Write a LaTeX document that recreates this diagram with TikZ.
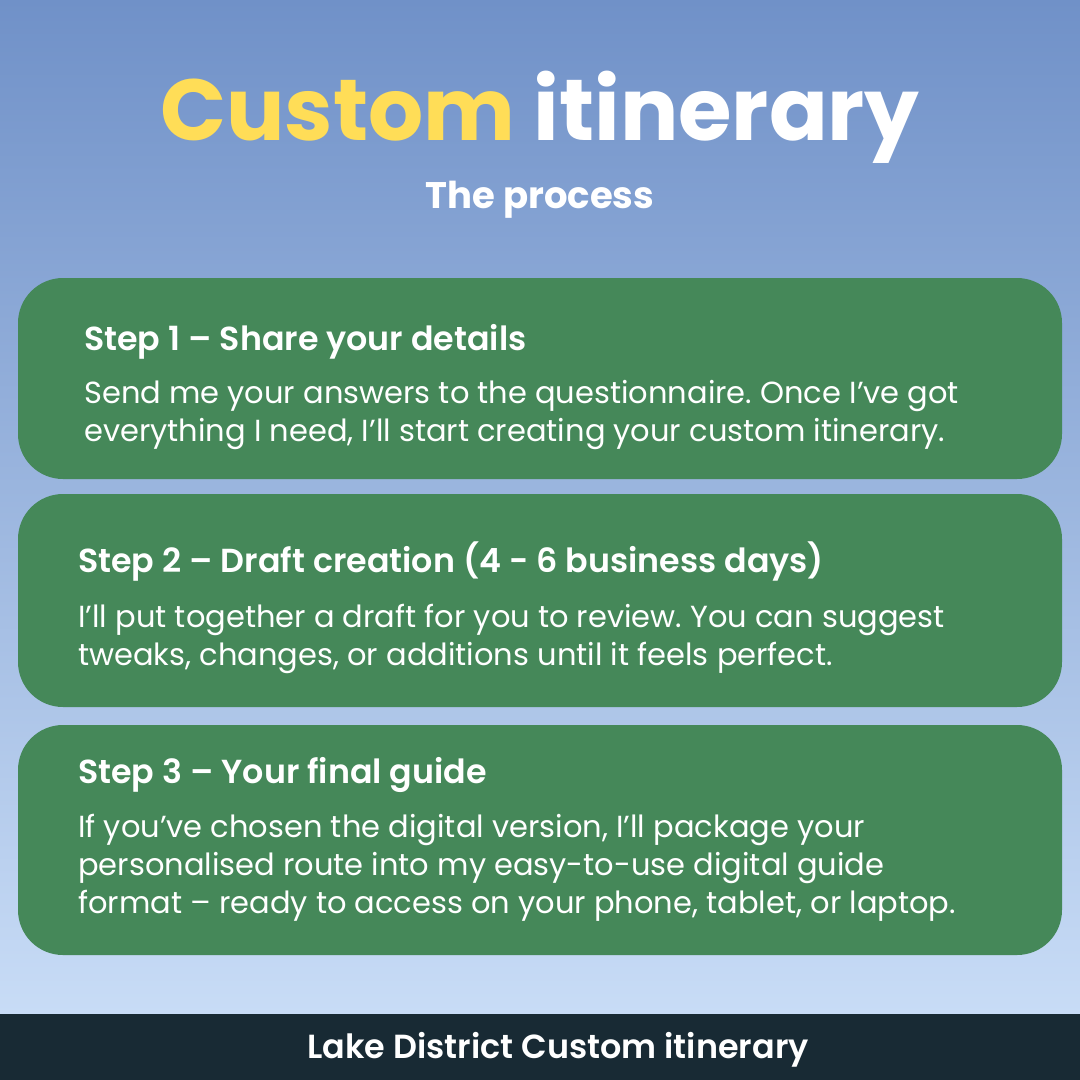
\documentclass[tikz,border=0pt]{standalone}
\usepackage{fontspec}
\setmainfont{Poppins}
\newfontfamily\semib{Poppins SemiBold}
\usetikzlibrary{positioning}
\frenchspacing
\definecolor{skytop}{RGB}{112,145,200}
\definecolor{skybottom}{RGB}{200,220,246}
\definecolor{stepgreen}{RGB}{69,136,89}
\definecolor{titleyellow}{RGB}{255,221,87}
\definecolor{footerdark}{RGB}{24,42,52}
\tikzset{
  stepbox/.style={fill=stepgreen, rounded corners=45pt},
  steptitle/.style={anchor=base west, inner sep=0pt, text=white, font=\semib\fontsize{33.3}{38}\selectfont},
  % base of a multi-line node is the baseline of its last line
  stepbody/.style={anchor=base west, inner sep=0pt, text=white, align=left, font=\fontsize{30.5}{38}\selectfont},
}
\begin{document}
\begin{tikzpicture}[x=1pt, y=-1pt]
        \useasboundingbox (0,0) rectangle (1080,1080);
        \shade[top color=skytop, bottom color=skybottom] (0,0) rectangle (1080,1014);
        \fill[footerdark] (0,1014) rectangle (1080,1080);

        \node[anchor=base, inner sep=0pt, text=white, font=\bfseries\fontsize{86.7}{100}\selectfont] (title) at (540,140) {\textcolor{titleyellow}{Custom} itinerary};
        \node[anchor=base, inner sep=0pt, text=white, font=\bfseries\fontsize{37}{40}\selectfont] (subtitle) at (540,208) {The process};

        % step 1
        \fill[stepbox] (18,278) rectangle (1062,479);
        \node[steptitle] (s1title) at (84,350) {Step 1 – Share your details};
        \node[stepbody] (s1body) at (84,441) {Send me your answers to the questionnaire. Once I’ve got\\everything I need, I’ll start creating your custom itinerary.};

        % step 2
        \fill[stepbox] (18,494) rectangle (1062,707);
        \node[steptitle] (s2title) at (78,572) {Step 2 – Draft creation (4 - 6 business days)};
        \node[stepbody] (s2body) at (78,665) {I’ll put together a draft for you to review. You can suggest\\tweaks, changes, or additions until it feels perfect.};

        % step 3
        \fill[stepbox] (18,725) rectangle (1062,955);
        \node[steptitle] (s3title) at (78,783) {Step 3 – Your final guide};
        \node[stepbody] (s3body) at (78,913) {If you’ve chosen the digital version, I’ll package your\\personalised route into my easy-to-use digital guide\\format – ready to access on your phone, tablet, or laptop.};

        \node[anchor=base, inner sep=0pt, text=white, font=\semib\fontsize{33.4}{38}\selectfont] (footer) at (558,1058) {Lake District Custom itinerary};
\end{tikzpicture}
\end{document}
